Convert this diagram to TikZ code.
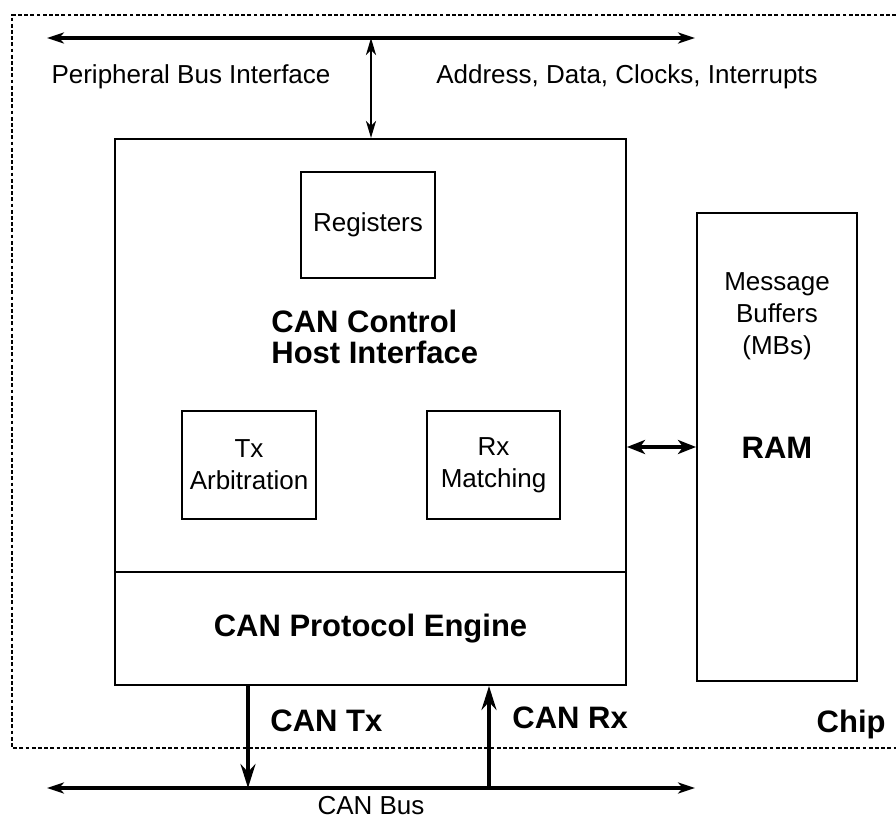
\documentclass[tikz,border=0pt]{standalone}
\usepackage{fontspec}
\setmainfont{Liberation Sans}
\usetikzlibrary{arrows.meta,positioning,calc}
\newcommand{\regfont}{\fontsize{13}{16}\selectfont}
\newcommand{\boldfont}{\fontsize{15.5}{15.5}\selectfont\bfseries}

\begin{document}
\begin{tikzpicture}[x=0.5pt,y=-0.5pt,
  blk/.style={draw,line width=1pt,inner sep=0pt,align=center,font=\regfont},
  lbl/.style={inner sep=0pt,align=center,font=\regfont},
  blbl/.style={inner sep=0pt,align=left,font=\boldfont},
  bus/.style={line width=1.8pt,{Stealth[length=8.5pt,width=5.5pt,inset=2.5pt]}-{Stealth[length=8.5pt,width=5.5pt,inset=2.5pt]}},
  sig/.style={line width=1.7pt,-{Stealth[length=12pt,width=7.5pt,inset=4pt]}},
  dsig/.style={line width=1.3pt,{Stealth[length=8.5pt,width=5pt,inset=2.5pt]}-{Stealth[length=8.5pt,width=5pt,inset=2.5pt]}},
  link/.style={line width=2.4pt,{Stealth[length=9pt,width=7pt,inset=2.5pt]}-{Stealth[length=9pt,width=7pt,inset=2.5pt]}}
]
  \useasboundingbox (0,0) rectangle (896,817);
  % chip boundary
  \draw[line width=1pt,dash pattern=on 1.9pt off 1.2pt] (896,15) -- (12,15) -- (12,748) -- (896,748);
  % blocks
  \node[blk,minimum width=255.5pt,minimum height=216.5pt] (host) at (370.5,355.5) {};
  \node[blk,minimum width=255.5pt,minimum height=56.5pt] (engine) at (370.5,628.5) {};
  \node[blk,minimum width=67pt,minimum height=53pt] (regs) at (368,225) {Registers};
  \node[blk,minimum width=67pt,minimum height=54pt] (txarb) at (249,465) {Tx\\Arbitration};
  \node[blk,minimum width=66.5pt,minimum height=54pt] (rxmatch) at (493.5,465) {Rx\\Matching};
  \node[blk,minimum width=80pt,minimum height=234pt] (ram) at (777,447) {};
  % labels
  \node[blbl,anchor=west] (hostlbl) at (271,337) {CAN Control\\Host Interface};
  \node[blbl,font=\boldfont] (englbl) at (engine.center) {CAN Protocol Engine};
  \node[lbl] (mbs) at (777,316) {Message\\Buffers\\(MBs)};
  \node[blbl] (ramlbl) at (777,448) {RAM};
  \node[lbl] (pbi) at (191,77) {Peripheral Bus Interface};
  \node[lbl] (adci) at (627,77) {Address, Data, Clocks, Interrupts};
  \node[blbl,anchor=west] (txlbl) at (270,721) {CAN Tx};
  \node[blbl,anchor=west] (rxlbl) at (512,718) {CAN Rx};
  \node[blbl,anchor=east] (chip) at (886,724) {Chip};
  \node[lbl,anchor=base] (canbus) at (371,815) {CAN Bus};
  % buses
  \coordinate (pbL) at (47,38);
  \coordinate (pbR) at (695,38);
  \coordinate (pbj) at (371,38);
  \coordinate (cbL) at (47,788);
  \coordinate (cbR) at (695,788);
  \coordinate (txj) at (248,788);
  \coordinate (rxj) at (489,788);
  \draw[bus] (pbL) -- (pbR);
  \draw[bus] (cbL) -- (cbR);
  % connectors
  \draw[dsig] (pbj) -- (pbj |- host.north);
  \draw[sig] (txj |- engine.south) -- (txj);
  \draw[sig] (rxj) -- (rxj |- engine.south);
  \draw[link] (ram.west -| host.east) -- (ram.west);
\end{tikzpicture}
\end{document}
